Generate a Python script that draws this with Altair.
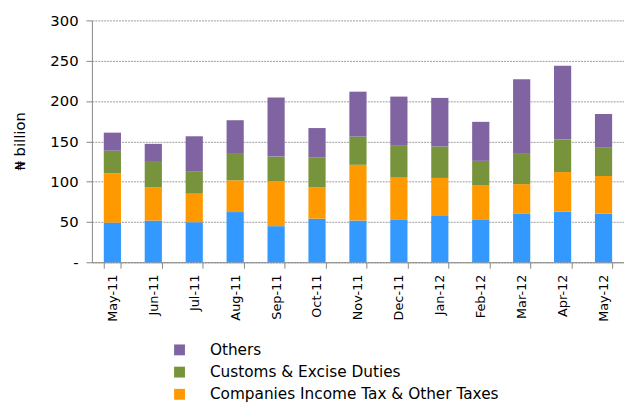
import altair as alt
import pandas as pd

months = ["May-11", "Jun-11", "Jul-11", "Aug-11", "Sep-11", "Oct-11", "Nov-11",
          "Dec-11", "Jan-12", "Feb-12", "Mar-12", "Apr-12", "May-12"]
vat = [49.2, 51.7, 49.7, 62.3, 44.8, 54.1, 51.7, 52.5, 57.4, 53.3, 60.6, 62.7, 60.2]
cit = [61.1, 41.5, 35.4, 39.4, 55.7, 38.7, 69.2, 52.5, 47.2, 41.9, 36.3, 49.2, 46.8]
customs = [28.1, 31.3, 27.2, 33.8, 30.6, 37.0, 35.0, 39.5, 39.1, 30.6, 38.6, 40.3, 35.0]
others = [22.4, 22.4, 44.0, 40.7, 73.2, 36.7, 55.7, 61.0, 60.2, 48.4, 91.6, 91.6, 42.0]

series = ["Others", "Customs & Excise Duties", "Companies Income Tax & Other Taxes", "Value Added Tax"]
colors = ["#8064A2", "#77933C", "#FF9900", "#3399FF"]
stack_rank = {"Value Added Tax": 0, "Companies Income Tax & Other Taxes": 1,
              "Customs & Excise Duties": 2, "Others": 3}

rows = []
for i, m in enumerate(months):
    for name, vals in [("Value Added Tax", vat), ("Companies Income Tax & Other Taxes", cit),
                       ("Customs & Excise Duties", customs), ("Others", others)]:
        rows.append({"month": m, "series": name, "value": vals[i], "rank": stack_rank[name]})
df = pd.DataFrame(rows)

FONT = "DejaVu Sans"

chart = alt.Chart(df).mark_bar().encode(
    x=alt.X("month:N", sort=months, title=None,
            scale=alt.Scale(paddingInner=0.58, paddingOuter=0.29),
            axis=alt.Axis(labelAngle=-90, labelFontSize=13, labelFont=FONT, labelColor="#000000",
                          tickBand="extent", tickSize=6, tickColor="#868686",
                          domainColor="#868686", labelPadding=6)),
    y=alt.Y("value:Q", stack="zero", title="₦ billion",
            scale=alt.Scale(domain=[0, 300], nice=False),
            axis=alt.Axis(values=[0, 50, 100, 150, 200, 250, 300],
                          labelExpr="datum.value == 0 ? '-\u00a0\u00a0' : datum.label",
                          labelFontSize=15, labelFont=FONT, labelColor="#000000",
                          tickSize=6, tickColor="#868686", domainColor="#868686",
                          grid=True, gridColor="#9a9a9a", gridDash=[2, 1], gridWidth=1,
                          labelPadding=8,
                          titleFontSize=15, titleFont=FONT, titleFontWeight="normal",
                          titleColor="#000000", titleAngle=-90, titleX=-73, titleY=122,
                          titleAlign="center", titleBaseline="middle")),
    color=alt.Color("series:N",
                    scale=alt.Scale(domain=series, range=colors),
                    legend=alt.Legend(values=series[:3], title=None, orient="none",
                                      legendX=81, legendY=326, symbolType="square",
                                      symbolSize=121, symbolStrokeWidth=0,
                                      labelFontSize=15.5, labelFont=FONT, labelColor="#000000",
                                      labelOffset=23, rowPadding=5.5, labelLimit=400)),
    order=alt.Order("rank:Q", sort="ascending"),
).properties(
    width=539, height=245,
    autosize=alt.AutoSizeParams(type="none"),
    padding={"left": 85, "top": 10, "right": 0, "bottom": 142},
).configure_view(stroke=None)

chart.save("out.html", embed_options={"renderer": "svg", "actions": False})
